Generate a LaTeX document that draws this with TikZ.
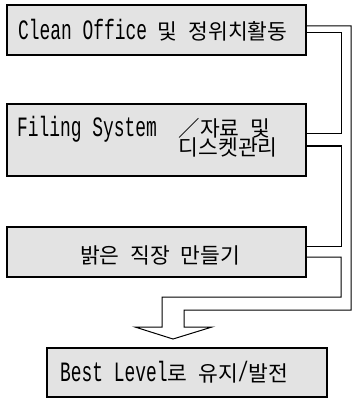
\documentclass[tikz,border=0pt]{standalone}
\usepackage{fontspec}
\setmainfont[FakeStretch=0.64]{Liberation Mono}
\newfontfamily\ko[Scale=0.768]{Noto Sans CJK KR}
\tikzset{
  box/.style={draw=black, line width=1.1pt, fill=black!11, inner sep=0pt},
  lbl/.style={anchor=base west, inner sep=0pt, font=\fontsize{28}{32}\selectfont},
  conn/.style={draw=black, line width=1pt, line join=miter}
}
\begin{document}
\begin{tikzpicture}[x=1pt,y=-1pt]
\useasboundingbox (0,0) rectangle (353,398);
% boxes
\node[box, minimum width=299pt, minimum height=50pt] (b1) at (156.5,30) {};
\node[box, minimum width=299pt, minimum height=72pt] (b2) at (156.5,140) {};
\node[box, minimum width=299pt, minimum height=50pt] (b3) at (156.5,252) {};
\node[box, minimum width=280pt, minimum height=49pt] (b4) at (187,372.5) {};
% texts
\node[lbl] (t1) at (18,40) {Clean Office {\ko 및} {\ko 정위치활동}};
\node[lbl] (t2a) at (17,136) {Filing System\ \ {\ko ／자료} {\ko 및}};
\node[lbl] (t2b) at (178.5,155.5) {{\ko 디스켓관리}};
\node[lbl] (t3) at (80,263) {{\ko 밝은} {\ko 직장} {\ko 만들기}};
\node[lbl] (t4) at (60,381) {Best Level{\ko 로} {\ko 유지}/{\ko 발전}};
% connector coordinates
\coordinate (oc1) at (351,26);
\coordinate (oc2) at (351,310);
\coordinate (oc3) at (184,310);
\coordinate (ah1) at (184,327);
\coordinate (ah2) at (212,327);
\coordinate (tip) at (173,339);
\coordinate (ah3) at (135,327);
\coordinate (ah4) at (162,327);
\coordinate (ic1) at (162,297);
\coordinate (ic2) at (341,297);
\coordinate (ic3) at (341,257);
% outer channel + hollow arrowhead
\draw[conn] (b1.east |- oc1) -- (oc1) -- (oc2) -- (oc3) -- (ah1) -- (ah2)
  -- (tip) -- (ah3) -- (ah4) -- (ic1) -- (ic2) -- (ic3) -- (b3.east |- ic3);
% inner segments between boxes
\coordinate (s1a) at (341,33);
\coordinate (s1b) at (341,134);
\draw[conn] (b1.east |- s1a) -- (s1a) -- (s1b) -- (b2.east |- s1b);
\coordinate (s2a) at (341,146);
\coordinate (s2b) at (341,246);
\draw[conn] (b2.east |- s2a) -- (s2a) -- (s2b) -- (b3.east |- s2b);
\end{tikzpicture}
\end{document}
